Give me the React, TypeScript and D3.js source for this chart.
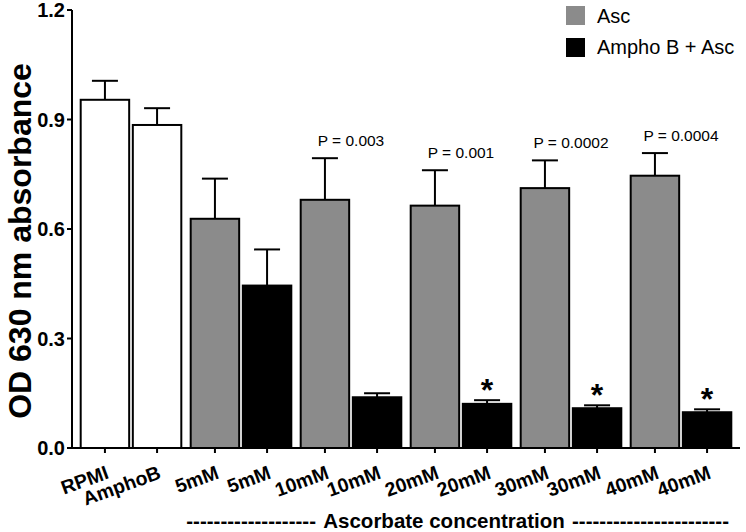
import React from "react";
import * as d3 from "d3";

const groups = ["Control", "5mM", "10mM", "20mM", "30mM", "40mM"];
const tickLabels = ["RPMI", "AmphoB", "5mM", "5mM", "10mM", "10mM", "20mM", "20mM", "30mM", "30mM", "40mM", "40mM"];
const kinds = ["control", "control", "asc", "combo", "asc", "combo", "asc", "combo", "asc", "combo", "asc", "combo"];
const means = [0.954, 0.885, 0.628, 0.445, 0.68, 0.139, 0.664, 0.121, 0.712, 0.109, 0.746, 0.098];
const errs = [0.052, 0.046, 0.11, 0.099, 0.114, 0.011, 0.097, 0.01, 0.076, 0.008, 0.062, 0.008];
const stars = [false, false, false, false, false, false, false, true, false, true, false, true];
const pLabels = ["", "", "P = 0.003", "P = 0.001", "P = 0.0002", "P = 0.0004"];
const yTicks = [0, 0.3, 0.6, 0.9, 1.2];
const legendItems = [
  { key: "asc", label: "Asc" },
  { key: "combo", label: "Ampho B + Asc" },
];
const xTitle = "Ascorbate concentration";

const W = 746;
const H = 532;
const fills: Record<string, string> = { control: "#ffffff", asc: "#8b8b8b", combo: "#000000" };
const FONT = "'Liberation Sans', Arial, Helvetica, sans-serif";

export default function App() {
  const y = d3.scaleLinear().domain([0, 1.2]).range([448, 10]);
  const x0 = d3.scaleBand<string>().domain(groups).range([76, 736]).paddingInner(0);
  const x1 = d3.scaleBand<number>().domain([0, 1]).range([0, x0.bandwidth()]).paddingInner(0.07).paddingOuter(0.09);
  const barX = (i: number) => (x0(groups[Math.floor(i / 2)]) as number) + (x1(i % 2) as number);
  const bw = x1.bandwidth();

  return (
    <svg width={W} height={H} style={{ position: "absolute", left: 0, top: 0, background: "#fff" }} fontFamily={FONT}>
      {/* bars */}
      {means.map((m, i) => (
        <rect key={"b" + i} x={barX(i)} y={y(m)} width={bw} height={y(0) - y(m)}
          fill={fills[kinds[i]]} stroke="#000" strokeWidth={2} />
      ))}
      {/* error bars */}
      {means.map((m, i) => {
        const cx = barX(i) + bw / 2;
        return (
          <g key={"e" + i} stroke="#000" strokeWidth={2}>
            <line x1={cx} x2={cx} y1={y(m)} y2={y(m + errs[i])} />
            <line x1={cx - 13} x2={cx + 13} y1={y(m + errs[i])} y2={y(m + errs[i])} />
          </g>
        );
      })}
      {/* stars */}
      {means.map((m, i) => stars[i] ? (
        <text key={"s" + i} x={barX(i) + bw / 2} y={y(m + errs[i]) + 1} textAnchor="middle"
          fontSize={32} fontWeight="bold">*</text>
      ) : null)}
      {/* p labels */}
      {groups.map((g, gi) => {
        if (!pLabels[gi]) return null;
        const ascIdx = gi * 2;
        const half = pLabels[gi].length * 4.1;
        const cx = Math.min((x0(g) as number) + x0.bandwidth() / 2, W - 1 - half);
        return (
          <text key={"p" + gi} x={cx} y={y(means[ascIdx] + errs[ascIdx]) - 12} textAnchor="middle" fontSize={15.5}>
            {pLabels[gi]}
          </text>
        );
      })}
      {/* y axis */}
      <line x1={72} x2={72} y1={y(1.2)} y2={y(0)} stroke="#000" strokeWidth={2} />
      {yTicks.map((t) => (
        <g key={"yt" + t}>
          <line x1={67} x2={72} y1={y(t)} y2={y(t)} stroke="#000" strokeWidth={2} />
          <text x={65} y={y(t)} dy="0.36em" textAnchor="end" fontSize={20} fontWeight="bold">{t.toFixed(1)}</text>
        </g>
      ))}
      {/* x axis */}
      <line x1={71} x2={740} y1={y(0)} y2={y(0)} stroke="#000" strokeWidth={2} />
      {tickLabels.map((l, i) => {
        const cx = barX(i) + bw / 2;
        return (
          <g key={"xt" + i}>
            <line x1={cx} x2={cx} y1={y(0)} y2={y(0) + 5} stroke="#000" strokeWidth={2} />
            <text transform={`translate(${cx + 5},478) rotate(-20)`} textAnchor="end" fontSize={19.5} fontWeight="bold">{l}</text>
          </g>
        );
      })}
      {/* axis titles */}
      <text transform="translate(31,241) rotate(-90)" textAnchor="middle" fontSize={32} fontWeight="bold">OD 630 nm absorbance</text>
      <text x={316} y={528} textAnchor="end" fontSize={20.5} fontWeight="bold">{"-".repeat(19)}</text>
      <text x={444} y={528} textAnchor="middle" fontSize={20.5} fontWeight="bold">{xTitle}</text>
      <text x={572} y={528} textAnchor="start" fontSize={20.5} fontWeight="bold">{"-".repeat(23)}</text>
      {/* legend */}
      {legendItems.map((it, i) => (
        <g key={"lg" + i}>
          <rect x={566} y={6 + i * 32} width={19} height={19} fill={fills[it.key]} />
          <text x={597} y={23 + i * 31} fontSize={20}>{it.label}</text>
        </g>
      ))}
    </svg>
  );
}
